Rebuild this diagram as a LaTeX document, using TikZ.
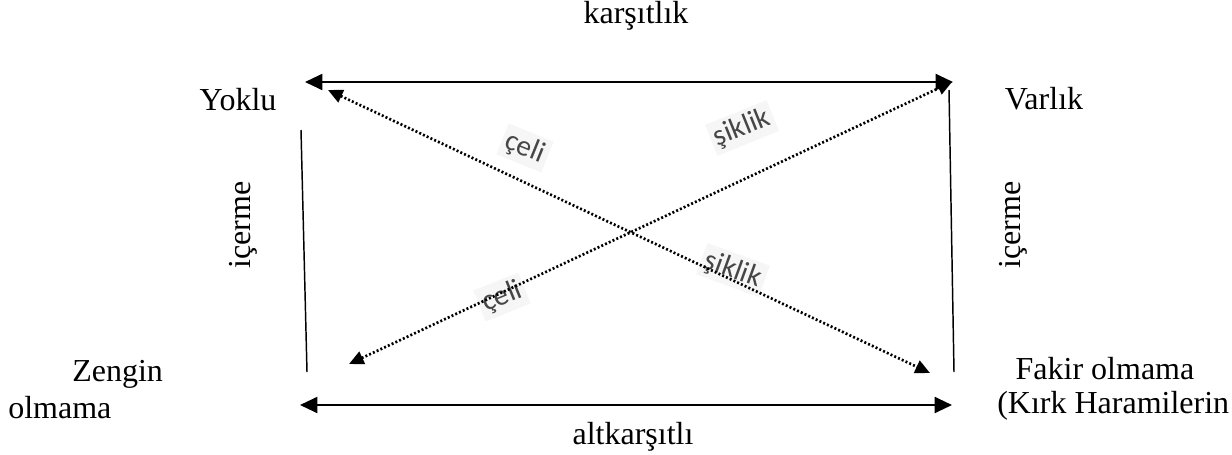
\documentclass[tikz,border=0pt]{standalone}
\usepackage{fontspec}
\setmainfont{Liberation Serif}
\newfontfamily\labfont{Carlito}
\usetikzlibrary{arrows.meta, positioning}
\definecolor{labgray}{RGB}{70, 70, 70}
\definecolor{patchbg}{RGB}{246, 246, 246}

\begin{document}
\begin{tikzpicture}[
  x=0.75pt, y=-0.75pt,
  corner/.style={font=\fontsize{24}{28}\selectfont, inner sep=0pt},
  relbox/.style={font=\fontsize{24}{28}\selectfont, inner sep=0pt},
  difflab/.style={font=\labfont\fontsize{22}{24}\selectfont, text=labgray, fill=patchbg, inner sep=3pt},
  solidarr/.style={{Triangle[length=13pt, width=12pt]}-{Triangle[length=13pt, width=12pt]}, line width=1.5pt},
  dotarr/.style={{Triangle[length=11pt, width=10pt]}-{Triangle[length=11pt, width=10pt]}, line width=2pt, dash pattern=on 1.5pt off 1.6pt},
  sideline/.style={line width=1.1pt}
]
  \useasboundingbox (0,0) rectangle (1232,454);

  % corners of the square
  \coordinate (topL) at (305,82);
  \coordinate (topR) at (953,82);
  \coordinate (botL) at (300,405);
  \coordinate (botR) at (952,405);
  \coordinate (diagA) at (328,90);
  \coordinate (diagB) at (930,373);
  \coordinate (diagC) at (349,364);
  \coordinate (diagD) at (952,82);
  \coordinate (leftT) at (301,130);
  \coordinate (leftB) at (307,372);
  \coordinate (rightT) at (949,90);
  \coordinate (rightB) at (954,372);

  % texts
  \node[relbox] (karsit) at (636,16) {karşıtlık};
  \node[relbox] (altkarsit) at (633,437) {altkarşıtlı};
  \node[corner] (yoklu) at (238,100) {Yoklu};
  \node[corner] (varlik) at (1044,99) {Varlık};
  \node[relbox, rotate=90] (icermeL) at (243,225) {içerme};
  \node[relbox, rotate=90] (icermeR) at (1013,225) {içerme};
  \node[corner, align=left, anchor=north west] (zengin) at (8,360)
    {\hspace*{48pt}Zengin\\olmama};
  \node[corner] (fakir) at (1105,369) {Fakir olmama};
  \node[corner, anchor=west] (kirk) at (997,406) {(Kırk Haramilerin};

  % relation labels
  \node[difflab, rotate=-22] (celiT) at (525,148) {çeli};
  \node[difflab, rotate=22] (siklikT) at (742,128) {şiklik};
  \node[difflab, rotate=22] (celiB) at (502,297) {çeli};
  \node[difflab, rotate=-20] (siklikB) at (733,270) {şiklik};

  % connectors
  \draw[solidarr] (topL) -- (topR);
  \draw[solidarr] (botL) -- (botR);
  \draw[sideline] (leftT) -- (leftB);
  \draw[sideline] (rightT) -- (rightB);
  \draw[dotarr] (diagA) -- (diagB);
  \draw[dotarr] (diagC) -- (diagD);
\end{tikzpicture}
\end{document}
